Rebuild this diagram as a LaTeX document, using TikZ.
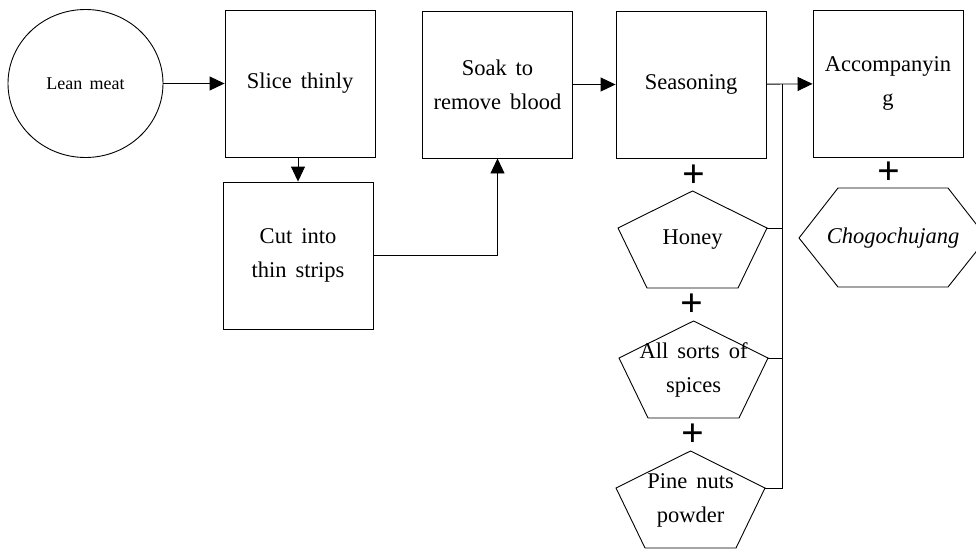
\documentclass[tikz,border=0pt]{standalone}
\usepackage{fontspec}
\setmainfont{Liberation Serif}[WordSpace=1.6]
\usetikzlibrary{arrows.meta,shapes.geometric}
\begin{document}
\begin{tikzpicture}[x=1pt,y=-1pt,
  line width=0.9pt,
  txt/.style={align=center, inner sep=0pt, font=\fontsize{22.5}{34}\selectfont},
  stepbox/.style={txt, draw, rectangle, minimum width=150pt, minimum height=147pt},
  startnode/.style={draw, ellipse, minimum width=155pt, minimum height=148pt,
    inner sep=0pt, font=\fontsize{18}{22}\selectfont},
  plus/.style={inner sep=0pt, font=\fontsize{40}{40}\selectfont\bfseries},
  arr/.style={-{Triangle[length=15pt,width=14pt]}},
  % flattened pentagon around a label, anchored at the label centre
  pentbox/.pic={
    \node[txt] (-t) at (0,0) {#1};
    \draw (0,-49) coordinate (-top) -- (74.5,-12) coordinate (-r)
      -- (45.5,48) -- (-45.5,48) -- (-74.5,-12) coordinate (-l) -- cycle;
  },
  % hexagon around a label, anchored at the label centre
  hexbox/.pic={
    \node[txt] (-t) at (0,0) {#1};
    \draw (-94,0) coordinate (-l) -- (-55,-50) coordinate (-top) -- (55,-50)
      -- (94,0) -- (55,49) -- (-55,49) -- cycle;
  }
]
\useasboundingbox (0,0) rectangle (976,551);
\clip (0,0) rectangle (976,551);

% main processing steps
\node[startnode] (lean) at (85.5,83.5) {Lean meat};
\node[stepbox] (slice) at (300,83.5) {Slice thinly};
\node[stepbox] (cut) at (298,255.5) {Cut into\\thin strips};
\node[stepbox] (soak) at (497.5,84.5) {Soak to\\remove blood};
\node[stepbox] (season) at (691,84.5) {Seasoning};
\node[stepbox] (accomp) at (888,83.5) {Accompanyin\\g};

% seasoning ingredients
\pic (honey) at (692.5,240) {pentbox={Honey}};
\pic (spices) at (693.5,370) {pentbox={All sorts of\\spices}};
\pic (pine) at (690.5,500) {pentbox={Pine nuts\\powder}};
\pic (choco) at (893,238) {hexbox={\itshape Chogochujang}};

% plus signs between ingredients
\node[plus] (p1) at (694,176) {+};
\node[plus] (p2) at (692,305) {+};
\node[plus] (p3) at (693,435) {+};
\node[plus] (p4) at (889,173) {+};

% flow arrows
\draw[arr] (lean) -- (slice);
\draw[arr] (cut.north |- slice.south) -- (cut.north);
\draw[arr] (cut.east) -| (soak.south);
\draw[arr] (soak) -- (season);
\draw[arr] (season) -- (accomp);

% ingredient bus feeding the seasoning line
\coordinate (bus) at (782,84);
\draw (bus) -- (bus |- pine-r) -- (pine-r);
\draw (honey-r) -- (honey-r -| bus);
\draw (spices-r) -- (spices-r -| bus);
\end{tikzpicture}
\end{document}
